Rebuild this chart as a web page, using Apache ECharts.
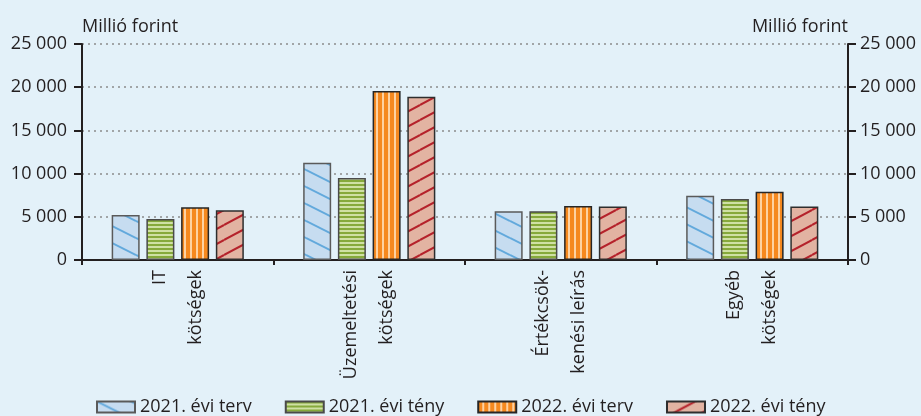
<!DOCTYPE html>
<html>
<head>
<meta charset="UTF-8">
<title>Millió forint</title>
<script src="https://cdn.jsdelivr.net/npm/echarts@6/dist/echarts.min.js"></script>
<style>
    html, body, #main {
        width: 921px;
        height: 416px;
        margin: 0;
        padding: 0;
        background: #e3f1f9;
    }
</style>
</head>
<body>
<div id="main"></div>
<script>
    var categories = ['IT\nkötségek', 'Üzemeltetési\nkötségek', 'Értékcsök-\nkenési leírás', 'Egyéb\nkötségek'];
    var seriesNames = ['2021. évi terv', '2021. évi tény', '2022. évi terv', '2022. évi tény'];
    var terv2021 = [5200, 11250, 5650, 7450];
    var teny2021 = [4750, 9500, 5650, 7050];
    var terv2022 = [6100, 19550, 6250, 7900];
    var teny2022 = [5750, 18900, 6200, 6200];
    var yMin = 0, yMax = 25000, yStep = 5000;

    var FONT = 'Open Sans';
    var TXT = '#231f20';

    // kis mintázatok a oszlopokhoz
    function tile(w, h, draw) {
        var c = document.createElement('canvas');
        c.width = w;
        c.height = h;
        draw(c.getContext('2d'), w, h);
        return {image: c, repeat: 'repeat'};
    }
    function diag(bg, fg, w, h, up) {
        return tile(w, h, function (ctx) {
            ctx.fillStyle = bg;
            ctx.fillRect(0, 0, w, h);
            ctx.strokeStyle = fg;
            ctx.lineWidth = 2;
            for (var k = -1; k <= 1; k++) {
                ctx.beginPath();
                if (up) {
                    ctx.moveTo(0, h + k * h);
                    ctx.lineTo(w, k * h);
                } else {
                    ctx.moveTo(0, k * h);
                    ctx.lineTo(w, h + k * h);
                }
                ctx.stroke();
            }
        });
    }
    var blueFill = diag('#c6dcf0', '#62a9dc', 34, 17, false);
    var redFill = diag('#e2b3a2', '#b5222b', 28, 15, true);
    var greenFill = tile(4, 4, function (ctx) {
        ctx.fillStyle = '#cfe0a4';
        ctx.fillRect(0, 0, 4, 4);
        ctx.fillStyle = '#86a93b';
        ctx.fillRect(0, 0, 4, 2);
    });
    var orangeFill = tile(6, 6, function (ctx) {
        ctx.fillStyle = '#f5891f';
        ctx.fillRect(0, 0, 6, 6);
        ctx.fillStyle = '#fdd2a2';
        ctx.fillRect(4, 0, 2, 6);
    });

    function fmt(v) {
        return String(v).replace(/\B(?=(\d{3})+(?!\d))/g, ' ');
    }

    function bar(name, data, fill, border) {
        return {
            name: name,
            type: 'bar',
            data: data,
            barWidth: 28,
            barGap: '24%',
            itemStyle: {color: fill, borderColor: border, borderWidth: 1.5}
        };
    }

    var mycharts = echarts.init(document.getElementById('main'));
    var yAxisBase = {
        type: 'value',
        min: yMin,
        max: yMax,
        interval: yStep,
        name: 'Millió forint',
        nameLocation: 'end',
        nameGap: 8,
        axisLine: {show: true, lineStyle: {color: '#231f20', width: 2}},
        axisTick: {show: true, length: 8, lineStyle: {color: '#231f20', width: 2}},
        axisLabel: {formatter: fmt, color: TXT, fontFamily: FONT, fontSize: 18}
    };
    var option = {
        backgroundColor: '#e3f1f9',
        animation: false,
        textStyle: {fontFamily: FONT},
        grid: {left: 82, right: 73, top: 44, bottom: 156},
        legend: {
            data: seriesNames,
            left: 91,
            top: 393,
            itemWidth: 38,
            itemHeight: 11,
            itemGap: 33,
            icon: 'rect',
            textStyle: {color: TXT, fontFamily: FONT, fontSize: 18}
        },
        xAxis: {
            type: 'category',
            data: categories,
            axisLine: {lineStyle: {color: '#231f20', width: 2}},
            axisTick: {show: true, length: 5, lineStyle: {color: '#231f20', width: 2}},
            axisLabel: {
                rotate: 90,
                margin: 10,
                lineHeight: 36,
                color: TXT,
                fontFamily: FONT,
                fontSize: 18
            }
        },
        yAxis: [
            Object.assign({}, yAxisBase, {
                position: 'left',
                nameTextStyle: {align: 'left', color: TXT, fontFamily: FONT, fontSize: 18},
                axisLabel: Object.assign({}, yAxisBase.axisLabel, {margin: 15}),
                splitLine: {show: true, lineStyle: {color: '#8c8c8c', width: 1.5, type: [2, 4]}}
            }),
            Object.assign({}, yAxisBase, {
                position: 'right',
                nameTextStyle: {align: 'right', color: TXT, fontFamily: FONT, fontSize: 18},
                axisLabel: Object.assign({}, yAxisBase.axisLabel, {margin: 12}),
                splitLine: {show: false}
            })
        ],
        series: [
            bar(seriesNames[0], terv2021, blueFill, '#5a5a5a'),
            bar(seriesNames[1], teny2021, greenFill, '#4a4a4a'),
            bar(seriesNames[2], terv2022, orangeFill, '#262626'),
            bar(seriesNames[3], teny2022, redFill, '#2e2e2e')
        ]
    };
    mycharts.setOption(option);
</script>
</body>
</html>
